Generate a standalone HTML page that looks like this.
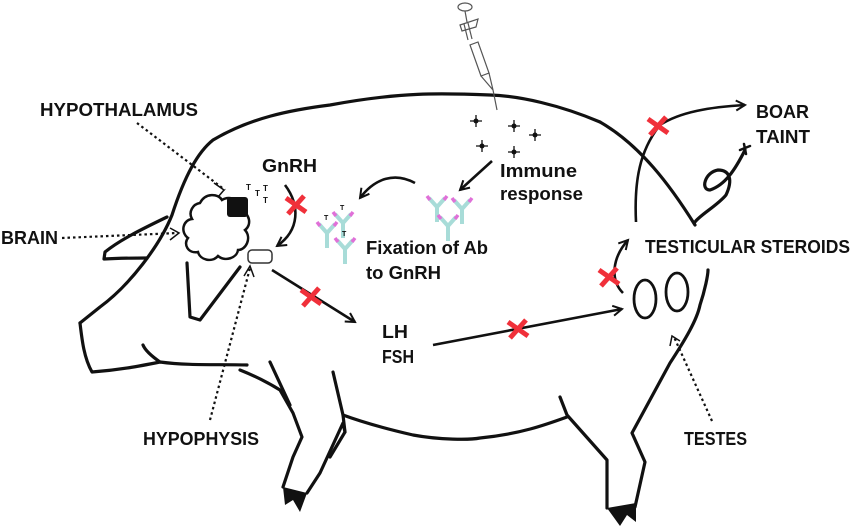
<!DOCTYPE html>
<html><head><meta charset="utf-8"><style>
html,body{margin:0;padding:0;background:#fff;}
svg{display:block;}
text{font-family:"Liberation Sans",sans-serif;font-weight:bold;fill:#111;}
</style></head><body>
<svg width="850" height="529" viewBox="0 0 850 529" xmlns="http://www.w3.org/2000/svg">
<defs>
<marker id="ah" viewBox="0 0 12 12" refX="10" refY="6" markerWidth="12" markerHeight="12" markerUnits="userSpaceOnUse" orient="auto">
<path d="M1,1 L10,6 L1,11" fill="none" stroke="#111" stroke-width="2"/></marker>
<g id="ab"><path d="M0,0 L0,-15 M0,-15 L-8,-24 M0,-15 L8,-24" stroke="#a8dcd8" stroke-width="4" fill="none"/><path d="M-7,-22 L-10,-26 M7,-22 L10,-26" stroke="#e070d8" stroke-width="3.5"/></g>
<g id="cr"><path d="M-6,0 H6 M0,-6 V6" stroke="#111" stroke-width="1.3"/><circle r="2.5" fill="#111"/></g>
<g id="rx"><path d="M-10,-7 L10,7 M-8,9 L8,-9" stroke="#f0303a" stroke-width="5"/></g>
</defs>
<g fill="none" stroke="#111" stroke-width="3.2" stroke-linecap="round" stroke-linejoin="round">
<path d="M600,122 C560,105 520,96 490,95 C440,93 400,92 330,105 C290,110 250,118 213,140 C198,152 185,175 172,215 C160,245 130,285 100,307 L80,323"/>
<path d="M600,122 C640,145 670,185 695,225"/>
<path d="M80,323 C82,340 84,358 92,372 C120,370 140,366 160,362 C190,366 220,364 247,365"/>
<path d="M160,362 C150,355 145,350 143,345"/>
<path d="M167,217 C140,230 120,240 105,252 L104,259 C120,258 135,258 147,258"/>
<path d="M187,263 L190,317 L200,320 L240,267"/>
<path d="M240,370 C260,378 272,385 280,390 L293,413 L302,437 L293,457 L283,487"/>
<path d="M270,362 L290,405"/>
<path d="M307,493 L320,473 L343,423 L345,432"/>
<path d="M333,372 L343,415 L345,432 L330,457"/>
<path d="M343,415 C370,425 400,432 413,435 C440,440 470,440 480,438 C520,434 545,425 567,417"/>
<path d="M560,397 L567,415 L607,460 L607,508"/>
<path d="M635,507 L645,462 L632,433 L670,363 C685,340 697,320 700,305 C705,290 708,275 708,270"/>
<ellipse cx="645" cy="299" rx="11" ry="19" stroke-width="2.8"/>
<ellipse cx="677" cy="292" rx="11" ry="19" stroke-width="2.8"/>
<path d="M695,222 C700,215 718,205 726,195 C733,180 730,170 718,170 C705,172 700,190 710,190 C725,185 735,170 745,150"/>
<path d="M740,150 L750,146 M744,144 L746,154" stroke-width="2.5"/>
</g>
<path d="M283,487 L307,493 L300,512 L293,500 L285,505 Z" fill="#111"/>
<path d="M607,508 L636,503 L636,522 L627,515 L620,526 Z" fill="#111"/>
<path d="M200,203 C205,193 218,193 222,200 C230,195 243,200 240,210 C250,213 252,225 245,230 C252,238 246,250 238,250 C237,258 225,262 218,256 C212,263 200,260 198,252 C188,254 183,244 188,238 C180,232 183,220 192,219 C188,212 193,204 200,203 Z" fill="#fff" stroke="#111" stroke-width="2.5"/>
<rect x="227" y="197" width="21" height="20" rx="3" fill="#111"/>
<rect x="248" y="250" width="24" height="13" rx="4" fill="#fff" stroke="#333" stroke-width="1.5"/>
<g font-size="8" font-family="Liberation Sans"><text x="246" y="190">T</text><text x="255" y="196">T</text><text x="263" y="191">T</text><text x="263" y="203">T</text></g>
<g fill="none" stroke="#111" stroke-width="2.2" stroke-dasharray="2.5,3">
<path d="M137,123 L225,190"/><path d="M62,238 L178,233"/><path d="M210,420 L250,268"/><path d="M712,421 L674,337"/>
</g>
<g fill="none" stroke="#111" stroke-width="1.5">
<path d="M214,183 L224,190 L218,197"/><path d="M170,228 L179,233 L170,240"/><path d="M244,276 L250,266 L254,277"/><path d="M670,346 L672,336 L680,341"/>
</g>
<g fill="none" stroke="#111" stroke-width="2.6" marker-end="url(#ah)">
<path d="M285,185 C300,205 300,230 277,246"/>
<path d="M272,270 L355,322"/>
<path d="M433,345 L622,309"/>
<path d="M623,293 C610,280 612,258 628,240"/>
<path d="M636,222 C634,180 640,150 660,125 C680,112 710,107 745,105"/>
<path d="M492,161 L460,190"/>
<path d="M415,183 C395,172 375,178 360,198"/>
</g>
<g fill="none" stroke="#555" stroke-width="1.2">
<path d="M481,76 L470,45 L478,42 L489,73 Z"/><path d="M489,73 L493,90 L497,110 M481,76 L493,90"/>
<path d="M468,40 L464,24 M472,39 L468,23"/><path d="M460,25 L478,19 L476,27 L462,31 Z"/>
<ellipse cx="465" cy="7" rx="7" ry="4"/><path d="M465,11 L467,22"/>
</g>
<use href="#cr" x="476" y="121"/><use href="#cr" x="514" y="126"/><use href="#cr" x="535" y="135"/><use href="#cr" x="482" y="146"/><use href="#cr" x="514" y="152"/>
<use href="#ab" x="437" y="222"/><use href="#ab" x="462" y="224"/><use href="#ab" x="448" y="241"/>
<use href="#ab" x="327" y="248"/><use href="#ab" x="343" y="238"/><use href="#ab" x="345" y="264"/>
<g font-size="7" font-family="Liberation Sans"><text x="324" y="220">T</text><text x="340" y="210">T</text><text x="342" y="236">T</text></g>
<use href="#rx" x="296" y="205"/><use href="#rx" x="311" y="297"/><use href="#rx" x="518" y="329"/><use href="#rx" x="609" y="277"/><use href="#rx" x="658" y="126"/>
<g font-size="18">
<text x="40" y="116" textLength="158" lengthAdjust="spacingAndGlyphs">HYPOTHALAMUS</text>
<text x="1" y="244" textLength="57" lengthAdjust="spacingAndGlyphs">BRAIN</text>
<text x="262" y="172" textLength="55" lengthAdjust="spacingAndGlyphs">GnRH</text>
<text x="500" y="177" textLength="77" lengthAdjust="spacingAndGlyphs">Immune</text>
<text x="500" y="200" textLength="83" lengthAdjust="spacingAndGlyphs">response</text>
<text x="366" y="254" textLength="122" lengthAdjust="spacingAndGlyphs">Fixation of Ab</text>
<text x="366" y="279" textLength="75" lengthAdjust="spacingAndGlyphs">to GnRH</text>
<text x="382" y="338" textLength="26" lengthAdjust="spacingAndGlyphs">LH</text>
<text x="382" y="363" textLength="32" lengthAdjust="spacingAndGlyphs">FSH</text>
<text x="645" y="253" textLength="205" lengthAdjust="spacingAndGlyphs">TESTICULAR STEROIDS</text>
<text x="756" y="118" textLength="53" lengthAdjust="spacingAndGlyphs">BOAR</text>
<text x="756" y="143" textLength="54" lengthAdjust="spacingAndGlyphs">TAINT</text>
<text x="143" y="445" textLength="116" lengthAdjust="spacingAndGlyphs">HYPOPHYSIS</text>
<text x="684" y="445" textLength="63" lengthAdjust="spacingAndGlyphs">TESTES</text>
</g>
</svg>
</body></html>
